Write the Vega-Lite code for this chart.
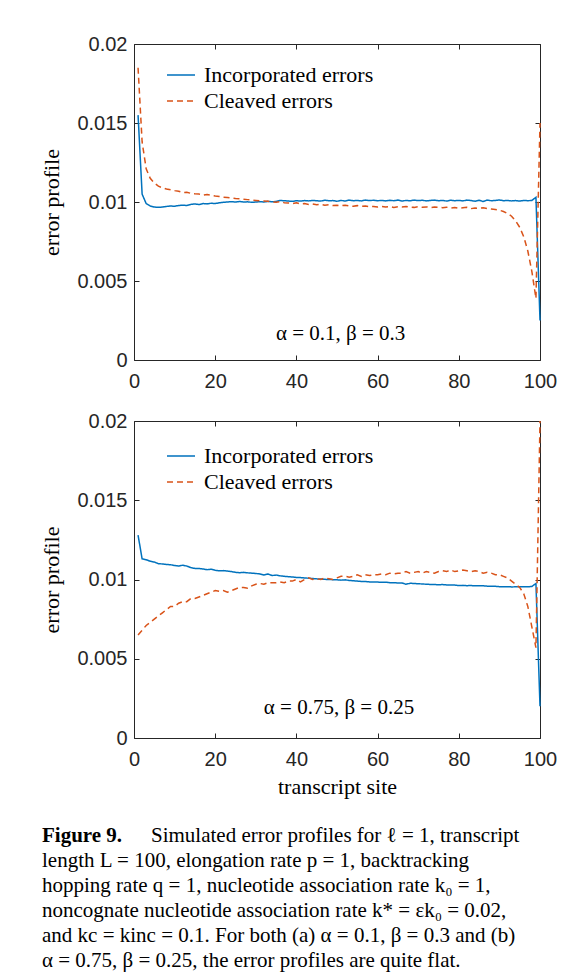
{
"$schema":"https://vega.github.io/schema/vega-lite/v6.json",
"padding":{"top":33,"left":40,"right":5,"bottom":5},
"background":"white",
"datasets":{
"prof":[
{"p":"a","s":1,"inc":0.0155,"clv":0.0185},{"p":"a","s":2,"inc":0.0105,"clv":0.0138},{"p":"a","s":3,"inc":0.0099,"clv":0.0121},{"p":"a","s":4,"inc":0.00975,"clv":0.0115},{"p":"a","s":5,"inc":0.00968,"clv":0.0112},{"p":"a","s":6,"inc":0.00966,"clv":0.011},{"p":"a","s":7,"inc":0.00968,"clv":0.0109},{"p":"a","s":8,"inc":0.00972,"clv":0.01082},{"p":"a","s":9,"inc":0.00975,"clv":0.01078},{"p":"a","s":10,"inc":0.00973,"clv":0.01072},
{"p":"a","s":11,"inc":0.00978,"clv":0.01068},{"p":"a","s":12,"inc":0.0098,"clv":0.0106},{"p":"a","s":13,"inc":0.00978,"clv":0.01062},{"p":"a","s":14,"inc":0.00985,"clv":0.01055},{"p":"a","s":15,"inc":0.00988,"clv":0.01052},{"p":"a","s":16,"inc":0.00984,"clv":0.0105},{"p":"a","s":17,"inc":0.0099,"clv":0.01043},{"p":"a","s":18,"inc":0.00988,"clv":0.01048},{"p":"a","s":19,"inc":0.00992,"clv":0.01042},{"p":"a","s":20,"inc":0.0099,"clv":0.01038},
{"p":"a","s":21,"inc":0.00995,"clv":0.01035},{"p":"a","s":22,"inc":0.00998,"clv":0.0103},{"p":"a","s":23,"inc":0.01,"clv":0.01028},{"p":"a","s":24,"inc":0.01002,"clv":0.01025},{"p":"a","s":25,"inc":0.01,"clv":0.01022},{"p":"a","s":26,"inc":0.01003,"clv":0.0102},{"p":"a","s":27,"inc":0.01,"clv":0.01018},{"p":"a","s":28,"inc":0.01001,"clv":0.01015},{"p":"a","s":29,"inc":0.00998,"clv":0.01012},{"p":"a","s":30,"inc":0.01,"clv":0.0101},
{"p":"a","s":31,"inc":0.01002,"clv":0.01008},{"p":"a","s":32,"inc":0.01,"clv":0.01006},{"p":"a","s":33,"inc":0.01004,"clv":0.01004},{"p":"a","s":34,"inc":0.01001,"clv":0.01},{"p":"a","s":35,"inc":0.01003,"clv":0.00998},{"p":"a","s":36,"inc":0.0101,"clv":0.01002},{"p":"a","s":37,"inc":0.01008,"clv":0.00996},{"p":"a","s":38,"inc":0.01006,"clv":0.00994},{"p":"a","s":39,"inc":0.01004,"clv":0.0099},{"p":"a","s":40,"inc":0.01008,"clv":0.00995},
{"p":"a","s":41,"inc":0.01006,"clv":0.00988},{"p":"a","s":42,"inc":0.01009,"clv":0.0099},{"p":"a","s":43,"inc":0.01007,"clv":0.00985},{"p":"a","s":44,"inc":0.0101,"clv":0.00987},{"p":"a","s":45,"inc":0.01008,"clv":0.00982},{"p":"a","s":46,"inc":0.01006,"clv":0.00985},{"p":"a","s":47,"inc":0.01011,"clv":0.0098},{"p":"a","s":48,"inc":0.01008,"clv":0.00982},{"p":"a","s":49,"inc":0.01009,"clv":0.00978},{"p":"a","s":50,"inc":0.01005,"clv":0.0098},
{"p":"a","s":51,"inc":0.0101,"clv":0.00976},{"p":"a","s":52,"inc":0.01006,"clv":0.0098},{"p":"a","s":53,"inc":0.01012,"clv":0.00975},{"p":"a","s":54,"inc":0.01008,"clv":0.00973},{"p":"a","s":55,"inc":0.0101,"clv":0.00977},{"p":"a","s":56,"inc":0.01007,"clv":0.00972},{"p":"a","s":57,"inc":0.01012,"clv":0.00974},{"p":"a","s":58,"inc":0.01009,"clv":0.0097},{"p":"a","s":59,"inc":0.01011,"clv":0.00972},{"p":"a","s":60,"inc":0.01008,"clv":0.00968},
{"p":"a","s":61,"inc":0.0101,"clv":0.00971},{"p":"a","s":62,"inc":0.01007,"clv":0.00969},{"p":"a","s":63,"inc":0.01011,"clv":0.00972},{"p":"a","s":64,"inc":0.01008,"clv":0.00966},{"p":"a","s":65,"inc":0.01012,"clv":0.0097},{"p":"a","s":66,"inc":0.01006,"clv":0.00968},{"p":"a","s":67,"inc":0.0101,"clv":0.00972},{"p":"a","s":68,"inc":0.01008,"clv":0.00968},{"p":"a","s":69,"inc":0.01012,"clv":0.00966},{"p":"a","s":70,"inc":0.01009,"clv":0.0097},
{"p":"a","s":71,"inc":0.01011,"clv":0.00967},{"p":"a","s":72,"inc":0.01007,"clv":0.00969},{"p":"a","s":73,"inc":0.0101,"clv":0.00965},{"p":"a","s":74,"inc":0.01012,"clv":0.00968},{"p":"a","s":75,"inc":0.01008,"clv":0.00966},{"p":"a","s":76,"inc":0.0101,"clv":0.00964},{"p":"a","s":77,"inc":0.01006,"clv":0.00967},{"p":"a","s":78,"inc":0.01011,"clv":0.00962},{"p":"a","s":79,"inc":0.01008,"clv":0.00965},{"p":"a","s":80,"inc":0.0101,"clv":0.0096},
{"p":"a","s":81,"inc":0.01007,"clv":0.00963},{"p":"a","s":82,"inc":0.01012,"clv":0.00966},{"p":"a","s":83,"inc":0.01009,"clv":0.00958},{"p":"a","s":84,"inc":0.01005,"clv":0.00962},{"p":"a","s":85,"inc":0.01011,"clv":0.0096},{"p":"a","s":86,"inc":0.01003,"clv":0.00963},{"p":"a","s":87,"inc":0.01012,"clv":0.00958},{"p":"a","s":88,"inc":0.01008,"clv":0.00955},{"p":"a","s":89,"inc":0.0101,"clv":0.00952},{"p":"a","s":90,"inc":0.01013,"clv":0.00948},
{"p":"a","s":91,"inc":0.01008,"clv":0.0094},{"p":"a","s":92,"inc":0.0101,"clv":0.00928},{"p":"a","s":93,"inc":0.01007,"clv":0.0091},{"p":"a","s":94,"inc":0.01009,"clv":0.0088},{"p":"a","s":95,"inc":0.01006,"clv":0.0084},{"p":"a","s":96,"inc":0.0101,"clv":0.0078},{"p":"a","s":97,"inc":0.01008,"clv":0.0069},{"p":"a","s":98,"inc":0.0101,"clv":0.0056},{"p":"a","s":99,"inc":0.0103,"clv":0.0039},{"p":"a","s":100,"inc":0.0025,"clv":0.015},
{"p":"b","s":1,"inc":0.0128,"clv":0.0065},{"p":"b","s":2,"inc":0.0113,"clv":0.0068},{"p":"b","s":3,"inc":0.01125,"clv":0.0071},{"p":"b","s":4,"inc":0.01115,"clv":0.0073},{"p":"b","s":5,"inc":0.0111,"clv":0.0075},{"p":"b","s":6,"inc":0.011,"clv":0.0077},{"p":"b","s":7,"inc":0.01098,"clv":0.0079},{"p":"b","s":8,"inc":0.01095,"clv":0.0081},{"p":"b","s":9,"inc":0.01093,"clv":0.0083},{"p":"b","s":10,"inc":0.01088,"clv":0.0083},
{"p":"b","s":11,"inc":0.01085,"clv":0.0085},{"p":"b","s":12,"inc":0.0109,"clv":0.0086},{"p":"b","s":13,"inc":0.01085,"clv":0.0086},{"p":"b","s":14,"inc":0.01075,"clv":0.0088},{"p":"b","s":15,"inc":0.0107,"clv":0.0088},{"p":"b","s":16,"inc":0.0107,"clv":0.0089},{"p":"b","s":17,"inc":0.01066,"clv":0.009},{"p":"b","s":18,"inc":0.01062,"clv":0.0091},{"p":"b","s":19,"inc":0.01065,"clv":0.0092},{"p":"b","s":20,"inc":0.01058,"clv":0.0093},
{"p":"b","s":21,"inc":0.01055,"clv":0.00925},{"p":"b","s":22,"inc":0.01056,"clv":0.0093},{"p":"b","s":23,"inc":0.01053,"clv":0.0092},{"p":"b","s":24,"inc":0.0105,"clv":0.0093},{"p":"b","s":25,"inc":0.01045,"clv":0.0094},{"p":"b","s":26,"inc":0.01043,"clv":0.0095},{"p":"b","s":27,"inc":0.01045,"clv":0.0095},{"p":"b","s":28,"inc":0.01042,"clv":0.00945},{"p":"b","s":29,"inc":0.0104,"clv":0.0096},{"p":"b","s":30,"inc":0.01038,"clv":0.0097},
{"p":"b","s":31,"inc":0.01035,"clv":0.00975},{"p":"b","s":32,"inc":0.01028,"clv":0.0097},{"p":"b","s":33,"inc":0.01035,"clv":0.0098},{"p":"b","s":34,"inc":0.01025,"clv":0.0098},{"p":"b","s":35,"inc":0.01028,"clv":0.0098},{"p":"b","s":36,"inc":0.01023,"clv":0.00985},{"p":"b","s":37,"inc":0.0102,"clv":0.0098},{"p":"b","s":38,"inc":0.01018,"clv":0.0099},{"p":"b","s":39,"inc":0.01016,"clv":0.0099},{"p":"b","s":40,"inc":0.01013,"clv":0.01},
{"p":"b","s":41,"inc":0.01012,"clv":0.00985},{"p":"b","s":42,"inc":0.0101,"clv":0.01},{"p":"b","s":43,"inc":0.01008,"clv":0.0101},{"p":"b","s":44,"inc":0.01006,"clv":0.01},{"p":"b","s":45,"inc":0.01004,"clv":0.01005},{"p":"b","s":46,"inc":0.01003,"clv":0.01},{"p":"b","s":47,"inc":0.01001,"clv":0.0101},{"p":"b","s":48,"inc":0.01,"clv":0.01005},{"p":"b","s":49,"inc":0.00999,"clv":0.01},{"p":"b","s":50,"inc":0.00998,"clv":0.0101},
{"p":"b","s":51,"inc":0.00996,"clv":0.0102},{"p":"b","s":52,"inc":0.00998,"clv":0.0102},{"p":"b","s":53,"inc":0.00994,"clv":0.01015},{"p":"b","s":54,"inc":0.00992,"clv":0.0102},{"p":"b","s":55,"inc":0.0099,"clv":0.0103},{"p":"b","s":56,"inc":0.00988,"clv":0.0102},{"p":"b","s":57,"inc":0.00987,"clv":0.0103},{"p":"b","s":58,"inc":0.00985,"clv":0.01025},{"p":"b","s":59,"inc":0.00984,"clv":0.0103},{"p":"b","s":60,"inc":0.00984,"clv":0.0103},
{"p":"b","s":61,"inc":0.00982,"clv":0.01035},{"p":"b","s":62,"inc":0.00983,"clv":0.0103},{"p":"b","s":63,"inc":0.0098,"clv":0.0104},{"p":"b","s":64,"inc":0.0098,"clv":0.01035},{"p":"b","s":65,"inc":0.00978,"clv":0.0104},{"p":"b","s":66,"inc":0.00978,"clv":0.0104},{"p":"b","s":67,"inc":0.0097,"clv":0.0105},{"p":"b","s":68,"inc":0.00976,"clv":0.0104},{"p":"b","s":69,"inc":0.00975,"clv":0.01045},{"p":"b","s":70,"inc":0.00973,"clv":0.0105},
{"p":"b","s":71,"inc":0.00972,"clv":0.0104},{"p":"b","s":72,"inc":0.0097,"clv":0.0105},{"p":"b","s":73,"inc":0.00969,"clv":0.01045},{"p":"b","s":74,"inc":0.00968,"clv":0.0104},{"p":"b","s":75,"inc":0.00967,"clv":0.0105},{"p":"b","s":76,"inc":0.00968,"clv":0.01055},{"p":"b","s":77,"inc":0.00966,"clv":0.0105},{"p":"b","s":78,"inc":0.00966,"clv":0.0106},{"p":"b","s":79,"inc":0.00965,"clv":0.0105},{"p":"b","s":80,"inc":0.00962,"clv":0.01055},
{"p":"b","s":81,"inc":0.00963,"clv":0.0106},{"p":"b","s":82,"inc":0.00961,"clv":0.01055},{"p":"b","s":83,"inc":0.00962,"clv":0.0105},{"p":"b","s":84,"inc":0.0096,"clv":0.01055},{"p":"b","s":85,"inc":0.00961,"clv":0.0105},{"p":"b","s":86,"inc":0.0096,"clv":0.0104},{"p":"b","s":87,"inc":0.00958,"clv":0.01045},{"p":"b","s":88,"inc":0.00958,"clv":0.0104},{"p":"b","s":89,"inc":0.00957,"clv":0.0103},{"p":"b","s":90,"inc":0.00955,"clv":0.0103},
{"p":"b","s":91,"inc":0.00954,"clv":0.0102},{"p":"b","s":92,"inc":0.00955,"clv":0.0101},{"p":"b","s":93,"inc":0.00953,"clv":0.0099},{"p":"b","s":94,"inc":0.00954,"clv":0.0097},{"p":"b","s":95,"inc":0.00955,"clv":0.0095},{"p":"b","s":96,"inc":0.00955,"clv":0.0091},{"p":"b","s":97,"inc":0.00954,"clv":0.0083},{"p":"b","s":98,"inc":0.00956,"clv":0.007},{"p":"b","s":99,"inc":0.00975,"clv":0.0057},{"p":"b","s":100,"inc":0.002,"clv":0.02}
],
"ann":[
{"p":"a","x":50.9,"y":0.00165,"label":"α = 0.1, β = 0.3"},
{"p":"b","x":50.5,"y":0.0019,"label":"α = 0.75, β = 0.25"}
],
"cap":[
{"line":1,"x":0,"text":"Figure 9.","bold":true},
{"line":1,"x":109,"text":"Simulated error profiles for ℓ = 1, transcript","bold":false},
{"line":2,"x":0,"text":"length L = 100, elongation rate p = 1, backtracking","bold":false},
{"line":3,"x":0,"text":"hopping rate q = 1, nucleotide association rate k₀ = 1,","bold":false},
{"line":4,"x":0,"text":"noncognate nucleotide association rate k* = εk₀ = 0.02,","bold":false},
{"line":5,"x":0,"text":"and kc = kinc = 0.1. For both (a) α = 0.1, β = 0.3 and (b)","bold":false},
{"line":6,"x":0,"text":"α = 0.75, β = 0.25, the error profiles are quite flat.","bold":false}
]
},
"config":{
"view":{"stroke":"#262626","strokeWidth":1},
"axis":{"labelFont":"Liberation Sans","labelFontSize":20,"labelColor":"#262626","labelFlush":false,"tickColor":"#262626","tickSize":-5,"tickWidth":1,"domain":false,"grid":false,"titleFont":"Liberation Serif","titleFontSize":22,"titleFontWeight":"normal","titleColor":"black"},
"legend":{"labelFont":"Liberation Serif","labelFontSize":22,"labelColor":"black","labelLimit":400}
},
"spacing":25,
"vconcat":[
{
"spacing":18,
"resolve":{"scale":{"color":"independent","strokeDash":"independent"}},
"vconcat":[
{
"width":406,"height":316,
"layer":[
{"data":{"name":"prof"},
"transform":[{"filter":"datum.p==='a'"},{"fold":["inc","clv"],"as":["series","value"]}],
"mark":{"type":"line","strokeWidth":1.5},
"encoding":{
"x":{"field":"s","type":"quantitative","scale":{"domain":[0,100]},"axis":{"orient":"bottom","values":[0,20,40,60,80,100],"format":"d","title":null,"labelPadding":16}},
"y":{"field":"value","type":"quantitative","scale":{"domain":[0,0.02]},"axis":{"orient":"left","values":[0,0.005,0.01,0.015,0.02],"format":"~g","title":"error profile","labelPadding":12,"titlePadding":13}},
"color":{"field":"series","type":"nominal","scale":{"domain":["inc","clv"],"range":["#0072BD","#D95319"]},"legend":{"orient":"none","legendX":32,"legendY":16,"title":null,"symbolType":"stroke","symbolSize":784,"symbolStrokeWidth":1.5,"labelOffset":8,"rowPadding":-2,"padding":0,"labelExpr":"datum.value==='inc'?'Incorporated errors':'Cleaved errors'"}},
"strokeDash":{"field":"series","type":"nominal","scale":{"domain":["inc","clv"],"range":[[1,0],[6,4]]},"legend":{"orient":"none","legendX":32,"legendY":16,"title":null,"symbolType":"stroke","symbolSize":784,"symbolStrokeWidth":1.5,"labelOffset":8,"rowPadding":-2,"padding":0,"labelExpr":"datum.value==='inc'?'Incorporated errors':'Cleaved errors'"}}
}},
{"data":{"name":"ann"},
"transform":[{"filter":"datum.p==='a'"}],
"mark":{"type":"text","font":"Liberation Serif","fontSize":21,"align":"center","baseline":"middle","color":"black"},
"encoding":{
"x":{"field":"x","type":"quantitative","scale":{"domain":[0,100]},"axis":{"orient":"top","values":[0,20,40,60,80,100],"labels":false,"title":null}},
"y":{"field":"y","type":"quantitative","scale":{"domain":[0,0.02]},"axis":{"orient":"right","values":[0,0.005,0.01,0.015,0.02],"labels":false,"title":null}},
"text":{"field":"label"}
}}
],
"resolve":{"axis":{"x":"independent","y":"independent"}}
},
{
"width":406,"height":317,
"layer":[
{"data":{"name":"prof"},
"transform":[{"filter":"datum.p==='b'"},{"fold":["inc","clv"],"as":["series","value"]}],
"mark":{"type":"line","strokeWidth":1.5},
"encoding":{
"x":{"field":"s","type":"quantitative","scale":{"domain":[0,100]},"axis":{"orient":"bottom","values":[0,20,40,60,80,100],"format":"d","title":"transcript site","labelPadding":16,"titlePadding":7}},
"y":{"field":"value","type":"quantitative","scale":{"domain":[0,0.02]},"axis":{"orient":"left","values":[0,0.005,0.01,0.015,0.02],"format":"~g","title":"error profile","labelPadding":12,"titlePadding":13}},
"color":{"field":"series","type":"nominal","scale":{"domain":["inc","clv"],"range":["#0072BD","#D95319"]},"legend":{"orient":"none","legendX":32,"legendY":20,"title":null,"symbolType":"stroke","symbolSize":784,"symbolStrokeWidth":1.5,"labelOffset":8,"rowPadding":-2,"padding":0,"labelExpr":"datum.value==='inc'?'Incorporated errors':'Cleaved errors'"}},
"strokeDash":{"field":"series","type":"nominal","scale":{"domain":["inc","clv"],"range":[[1,0],[6,4]]},"legend":{"orient":"none","legendX":32,"legendY":20,"title":null,"symbolType":"stroke","symbolSize":784,"symbolStrokeWidth":1.5,"labelOffset":8,"rowPadding":-2,"padding":0,"labelExpr":"datum.value==='inc'?'Incorporated errors':'Cleaved errors'"}}
}},
{"data":{"name":"ann"},
"transform":[{"filter":"datum.p==='b'"}],
"mark":{"type":"text","font":"Liberation Serif","fontSize":21,"align":"center","baseline":"middle","color":"black"},
"encoding":{
"x":{"field":"x","type":"quantitative","scale":{"domain":[0,100]},"axis":{"orient":"top","values":[0,20,40,60,80,100],"labels":false,"title":null}},
"y":{"field":"y","type":"quantitative","scale":{"domain":[0,0.02]},"axis":{"orient":"right","values":[0,0.005,0.01,0.015,0.02],"labels":false,"title":null}},
"text":{"field":"label"}
}}
],
"resolve":{"axis":{"x":"independent","y":"independent"}}
}
]
},
{
"width":530,"height":150,
"view":{"stroke":null},
"data":{"name":"cap"},
"layer":[
{"transform":[{"filter":"datum.bold"}],
"mark":{"type":"text","font":"Liberation Serif","fontSize":21,"fontWeight":"bold","align":"left","baseline":"middle","color":"black"},
"encoding":{
"x":{"field":"x","type":"quantitative","scale":{"domain":[0,530],"range":[-92,438]},"axis":null},
"y":{"field":"line","type":"quantitative","scale":{"domain":[0.5,6.5],"reverse":true},"axis":null},
"text":{"field":"text"}}},
{"transform":[{"filter":"!datum.bold"}],
"mark":{"type":"text","font":"Liberation Serif","fontSize":21,"align":"left","baseline":"middle","color":"black"},
"encoding":{
"x":{"field":"x","type":"quantitative","scale":{"domain":[0,530],"range":[-92,438]},"axis":null},
"y":{"field":"line","type":"quantitative","scale":{"domain":[0.5,6.5],"reverse":true},"axis":null},
"text":{"field":"text"}}}
]
}
],
"resolve":{"scale":{"x":"independent","y":"independent"}}
}
